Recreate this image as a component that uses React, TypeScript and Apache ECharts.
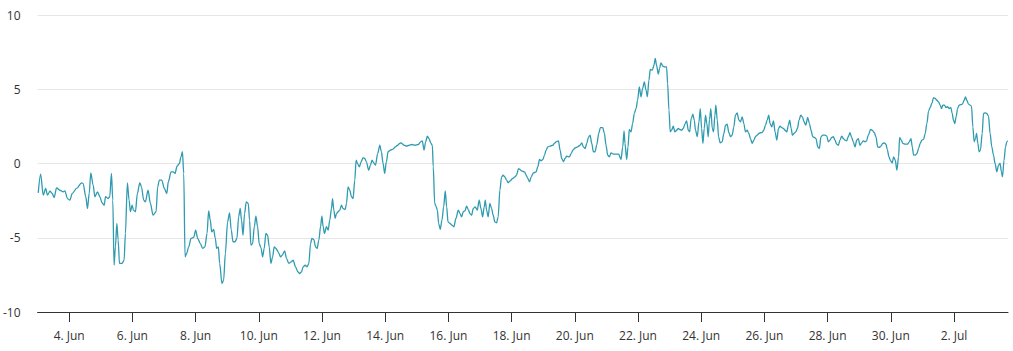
import React, { useEffect, useRef } from "react";
import * as echarts from "echarts";

// Time is in hours since 3 Jun 00:00
const tickHours = [24, 72, 120, 168, 216, 264, 312, 360, 408, 456, 504, 552, 600, 648, 696];
const tickLabels = ["4. Jun", "6. Jun", "8. Jun", "10. Jun", "12. Jun", "14. Jun", "16. Jun", "18. Jun", "20. Jun", "22. Jun", "24. Jun", "26. Jun", "28. Jun", "30. Jun", "2. Jul"];
const yTicks = [-10, -5, 0, 5, 10];

const part1: [number, number][] = [
  [0.5, -1.98], [2.3, -0.72], [4.3, -2.13], [6.1, -1.68], [7.6, -2.13], [9.4, -1.86], [11.1, -2.02], [12.6, -2.29],
  [14.4, -1.64], [16.9, -1.8], [19.5, -1.91], [20.7, -1.84], [22.7, -2.36], [24.5, -2.47], [26.3, -2.02], [29.6, -1.68],
  [33.4, -1.3], [34.6, -1.35], [36.6, -2.24], [37.9, -3.03], [39.2, -2.02], [40.4, -0.63], [42.2, -1.46], [43.5, -2.24],
  [45.5, -1.91], [47.3, -2.24], [49.0, -2.65], [50.6, -2.81], [51.6, -2.24], [53.6, -2.36], [54.8, -2.24], [56.1, -0.67],
  [57.1, -2.47], [58.1, -6.85], [59.1, -5.61], [60.2, -4.04], [61.2, -5.16], [62.2, -6.73], [64.2, -6.73], [65.7, -6.51],
  [66.7, -4.71], [68.2, -1.3], [69.5, -2.47], [70.5, -3.25], [71.8, -2.81], [72.8, -3.14], [74.3, -3.25], [75.8, -2.02],
  [77.6, -1.3], [78.9, -1.57], [80.6, -2.47], [81.9, -2.58], [83.9, -1.8], [85.7, -2.69], [87.7, -3.48],
];

const part2: [number, number][] = [
  [90.0, -3.25], [91.2, -1.57], [92.5, -1.12], [94.3, -1.12], [96.3, -1.68], [98.1, -2.02], [99.3, -1.23], [101.4, -0.56],
  [103.1, -0.56], [104.4, -0.67], [105.9, -0.18], [107.7, 0], [108.9, 0.45], [110.0, 0.79], [111.0, -0.67], [112.0, -6.29],
  [113.2, -6.06], [114.8, -5.61], [116.5, -5.05], [118.5, -4.98], [120.1, -4.49], [121.6, -5.05], [123.6, -5.39], [125.4, -5.72],
  [127.1, -5.61], [128.7, -4.71], [129.9, -3.19], [131.2, -3.82], [132.2, -4.6], [133.7, -4.44], [135.0, -5.05], [136.0, -5.72],
  [137.3, -5.61], [138.3, -6.73], [140.0, -8.08], [141.3, -7.86], [142.6, -6.06], [144.3, -3.93], [145.8, -3.32], [147.1, -4.49],
  [148.4, -5.27], [149.9, -5.27], [151.4, -5.05], [152.7, -3.59], [153.9, -3.03], [154.9, -3.82], [156.0, -4.83], [157.2, -3.37],
  [158.5, -2.58], [160.0, -2.69], [161.0, -3.82], [162.0, -5.5], [163.3, -5.39], [164.6, -4.26], [165.8, -3.55], [167.1, -4.26],
  [168.3, -5.39], [169.6, -5.66], [170.9, -6.29], [172.1, -5.72], [173.4, -4.71], [174.7, -4.83], [175.9, -5.61], [177.2, -6.73],
  [178.5, -6.29], [179.7, -5.61], [181.0, -5.72],
];

const part3: [number, number][] = [
  [182.0, -5.84], [183.3, -6.06], [184.5, -6.29], [185.8, -6.17], [187.6, -5.88], [189.1, -6.4], [190.8, -6.73], [192.6, -6.62],
  [194.1, -6.51], [195.9, -6.96], [197.7, -7.3], [199.2, -7.41], [200.4, -7.3], [201.7, -6.96], [203.2, -6.85], [204.7, -6.96],
  [206.0, -6.73], [207.3, -5.39], [208.3, -5.05], [209.8, -5.12], [211.1, -5.61], [212.3, -5.72], [213.6, -5.16], [214.9, -4.26],
  [215.9, -3.55], [216.9, -4.26], [217.9, -4.71], [219.4, -4.26], [220.7, -4.49], [221.9, -3.82], [223.2, -3.03], [224.0, -2.36],
  [225.0, -3.14], [226.0, -3.7], [227.0, -3.37], [228.3, -3.25], [229.5, -3.14], [230.8, -2.81], [232.0, -3.03], [233.6, -3.1],
  [234.6, -2.69], [235.8, -1.57], [237.1, -1.8], [238.4, -2.24], [239.6, -2.36], [240.9, -1.12], [241.9, 0.22], [243.2, -0.04],
  [244.4, -0.22], [245.7, 0.11], [247.2, 0.4], [248.5, 0.34], [249.7, 0.11], [251.5, -0.45], [252.8, -0.11], [254.0, 0.22],
  [255.3, 0.04], [256.6, -0.11], [258.3, 0.67], [259.9, 1.23], [261.1, 0.79], [262.4, 0], [263.6, -0.67], [264.9, 0.11],
  [266.2, 0.79], [267.9, 0.9], [270.0, 0.97], [271.7, 1.12], [273.5, 1.23], [275.0, 1.35], [276.0, 1.39],
];

const part4: [number, number][] = [
  [278.3, 1.23], [280.3, 1.17], [282.3, 1.23], [284.1, 1.28], [286.6, 1.23], [289.2, 1.28], [290.9, 1.46], [292.2, 1.53],
  [293.5, 0.9], [294.7, 1.46], [296.0, 1.84], [297.3, 1.68], [298.8, 1.35], [299.8, 1.23], [300.5, -0.22], [301.6, -2.69],
  [302.6, -2.87], [303.6, -3.14], [304.6, -4.04], [305.8, -4.44], [307.1, -3.82], [308.4, -2.92], [309.6, -1.84], [310.7, -2.92],
  [311.7, -3.93], [313.2, -4.04], [314.7, -4.15], [316.2, -4.26], [317.7, -3.7], [319.5, -3.14], [320.8, -3.37], [322.0, -3.59],
  [323.3, -3.25], [324.6, -3.19], [325.8, -2.87], [327.1, -3.1], [328.3, -3.37], [329.6, -3.48], [330.9, -3.03], [332.4, -2.92],
  [333.9, -3.14], [335.4, -2.47], [336.7, -3.03], [338.0, -3.59], [339.2, -2.92], [340.0, -2.47], [341.0, -3.14], [342.2, -3.59],
  [343.5, -2.69], [344.8, -3.03], [346.0, -3.48], [347.3, -3.93], [348.6, -4.0], [349.8, -3.59], [351.1, -1.8], [352.4, -0.9],
  [353.6, -0.79], [354.9, -0.9], [356.2, -1.12], [357.4, -1.3], [358.7, -1.19], [360.7, -1.01], [362.5, -0.9], [363.7, -0.79],
  [365.3, -0.34], [366.3, -0.4], [367.5, -0.49],
];

const part5: [number, number][] = [
  [369.8, -0.56], [371.1, -0.79], [372.3, -1.01], [373.6, -1.23], [374.9, -0.9], [376.6, -0.63], [378.6, -0.56], [379.9, -0.22],
  [381.2, 0.27], [382.4, 0.18], [383.7, 0.27], [385.0, 0.56], [386.2, 0.9], [387.5, 1.12], [389.3, 1.17], [391.3, 1.23],
  [392.5, 1.35], [393.8, 1.46], [395.6, 1.53], [396.8, 0.9], [398.1, 0.34], [399.4, 0.11], [400.6, 0.34], [401.9, 0.49],
  [403.9, 0.45], [405.2, 0.67], [406.5, 0.9], [408.2, 1.05], [410.2, 1.12], [412.0, 1.23], [413.3, 1.39], [414.5, 1.12],
  [415.8, 1.01], [417.1, 1.35], [418.3, 1.75], [419.6, 1.91], [420.9, 1.35], [422.1, 0.79], [423.4, 0.79], [424.6, 1.23],
  [426.2, 2.02], [427.4, 2.42], [429.2, 2.42], [430.5, 2.02], [431.7, 1.23], [433.0, 0.56], [434.3, 0.45], [435.5, 0.72],
  [437.3, 0.63], [439.3, 0.63], [441.3, 0.63], [443.1, 0.27], [444.4, 1.12], [445.4, 2.2], [446.1, 1.35], [447.4, 0.27],
  [448.4, 1.12], [449.4, 2.29], [450.7, 2.13], [451.9, 2.69], [453.2, 3.37], [454.5, 3.7], [455.7, 4.26], [457.0, 5.16],
  [458.3, 4.49], [459.5, 5.05], [460.8, 5.5], [462.1, 4.94],
];

const part6: [number, number][] = [
  [463.1, 4.49], [464.3, 5.61], [465.3, 6.33], [466.9, 6.29], [468.1, 6.62], [469.1, 7.07], [470.1, 6.62], [471.4, 6.02],
  [472.4, 6.4], [473.4, 6.78], [474.9, 6.55], [476.5, 6.51], [477.7, 6.51], [478.5, 5.39], [479.5, 3.59], [480.5, 2.13],
  [481.5, 2.24], [482.8, 2.51], [484.0, 2.13], [485.3, 2.24], [486.6, 2.36], [487.8, 2.29], [489.1, 2.24], [490.4, 2.36],
  [491.6, 2.65], [492.9, 2.87], [494.2, 2.24], [495.2, 2.13], [496.4, 3.03], [497.7, 3.32], [498.7, 2.92], [499.7, 2.24],
  [501.0, 1.8], [502.3, 2.81], [503.3, 3.7], [504.3, 2.36], [505.3, 1.35], [506.3, 2.36], [507.3, 3.25], [508.3, 2.69],
  [509.3, 1.8], [510.3, 2.96], [511.3, 3.7], [512.4, 2.36], [513.4, 2.13], [514.4, 3.25], [515.1, 3.93], [516.2, 2.92],
  [517.2, 1.8], [518.4, 1.39], [519.9, 1.46], [521.2, 2.02], [522.5, 2.58], [523.7, 2.65], [525.0, 2.07], [526.3, 1.8],
  [527.5, 1.91], [528.8, 2.47], [530.0, 3.25], [531.3, 3.41], [532.6, 2.92], [533.8, 2.81], [535.1, 3.14], [536.4, 2.69],
  [537.6, 2.13], [538.9, 2.24], [540.2, 2.02], [541.4, 1.68], [542.7, 1.35], [544.0, 1.57], [545.2, 1.8], [546.5, 1.91],
  [547.8, 2.02], [549.0, 2.07], [550.3, 2.09], [551.5, 2.24], [552.8, 2.58], [554.1, 2.92], [555.3, 3.25],
];

const part7: [number, number][] = [
  [556.3, 2.69], [557.6, 2.47], [558.9, 2.87], [560.1, 2.13], [561.4, 1.57], [562.7, 2.36], [563.9, 2.51], [565.2, 2.42],
  [566.4, 2.36], [567.7, 2.24], [569.0, 2.13], [570.2, 2.58], [571.2, 2.92], [572.3, 2.36], [573.3, 1.91], [574.5, 2.02],
  [575.8, 2.13], [577.1, 2.36], [578.3, 2.92], [579.6, 3.25], [580.9, 3.14], [582.1, 2.81], [583.4, 2.58], [584.9, 3.1],
  [586.2, 2.69], [587.4, 2.24], [588.7, 1.8], [590.0, 1.75], [591.2, 1.68], [592.5, 1.12], [593.7, 1.01], [595.0, 1.8],
  [596.3, 1.91], [598.0, 1.91], [599.3, 1.86], [600.6, 1.46], [601.8, 1.57], [603.1, 1.75], [604.4, 1.8], [605.6, 1.57],
  [606.9, 1.3], [608.2, 1.23], [609.4, 1.57], [610.7, 1.84], [612.0, 1.68], [613.2, 1.57], [614.5, 1.53], [615.7, 1.8],
  [617.0, 2.07], [618.3, 1.75], [619.5, 1.46], [620.8, 1.12], [622.1, 1.57], [623.3, 1.68], [624.6, 1.23], [625.9, 1.39],
  [627.1, 1.53], [628.4, 1.46], [629.6, 1.53], [630.9, 1.91], [632.7, 2.29], [633.9, 2.24], [635.5, 2.07], [636.7, 1.8],
  [638.0, 1.12], [639.2, 1.08], [640.5, 1.17], [641.8, 1.35], [643.1, 1.39], [644.3, 1.3], [645.3, 0.94], [646.6, 0.45],
  [647.8, 0.18], [649.1, 0.04],
];

const part8: [number, number][] = [
  [650.1, 0.45], [651.4, 0.22], [652.6, -0.45], [653.9, 0.45], [654.7, 1.75], [655.9, 1.57], [657.2, 1.35], [659.0, 1.3],
  [660.7, 1.3], [662.0, 1.46], [663.3, 1.68], [664.3, 1.12], [665.3, 0.56], [666.6, 0.56], [667.8, 0.67], [669.1, 1.01],
  [670.3, 1.35], [671.6, 1.57], [672.9, 1.62], [674.1, 2.02], [675.4, 2.69], [676.7, 3.55], [677.9, 3.77], [679.2, 4.04],
  [680.4, 4.44], [681.7, 4.38], [683.0, 4.26], [684.2, 4.15], [685.5, 3.93], [686.5, 3.7], [687.5, 3.93], [688.8, 3.93],
  [689.8, 3.77], [691.1, 3.82], [692.3, 3.7], [693.6, 3.77], [694.6, 3.37], [695.6, 2.92], [696.6, 2.69], [697.6, 3.14],
  [698.7, 3.7], [699.9, 3.93], [701.2, 3.97], [702.4, 4.0], [703.7, 4.26], [704.7, 4.49], [705.7, 4.26], [707.0, 4.0],
  [708.2, 3.93], [709.3, 3.86], [710.3, 2.47], [711.3, 1.46], [712.3, 1.68], [713.1, 2.02], [714.1, 1.35], [715.1, 0.79],
  [716.1, 0.9], [717.4, 2.02], [718.4, 3.37], [719.6, 3.41], [720.9, 3.37], [722.2, 3.19], [723.4, 2.02], [724.7, 1.12],
  [726.0, 0.56], [727.2, 0], [728.5, -0.56], [729.8, -0.11], [731.0, 0], [732.0, -0.56], [732.8, -0.9], [734.0, 0.22],
  [735.1, 1.12], [736.1, 1.46], [736.8, 1.53],
];

const seriesData = [...part1, ...part2, ...part3, ...part4, ...part5, ...part6, ...part7, ...part8];

export default function App() {
  const ref = useRef<HTMLDivElement>(null);
  useEffect(() => {
    document.body.style.margin = "0";
    const chart = echarts.init(ref.current!, null, { renderer: "svg" });
    const font = "'Open Sans', 'Noto Sans', sans-serif";
    chart.setOption({
      animation: false,
      grid: { left: 36, right: 5, top: 15, bottom: 39 },
      xAxis: {
        type: "value",
        min: 0,
        max: 737,
        splitLine: { show: false },
        axisLine: { show: true, onZero: false, lineStyle: { color: "#333333", width: 1 } },
        axisTick: { show: true, length: 10, lineStyle: { color: "#333333" }, customValues: tickHours },
        axisLabel: {
          customValues: tickHours,
          margin: 17,
          color: "#333333",
          fontSize: 12,
          fontFamily: font,
          formatter: (v: number) => {
            const i = tickHours.indexOf(Math.round(v));
            return i >= 0 ? tickLabels[i] : "";
          },
        },
      },
      yAxis: {
        type: "value",
        min: yTicks[0],
        max: yTicks[yTicks.length - 1],
        interval: 5,
        axisLine: { show: false },
        axisTick: { show: false },
        splitLine: { lineStyle: { color: "#e6e6e6", width: 1 } },
        axisLabel: { margin: 17, color: "#333333", fontSize: 12, fontFamily: font },
      },
      series: [
        {
          type: "line",
          data: seriesData,
          showSymbol: false,
          smooth: 0.3,
          smoothMonotone: "x",
          lineStyle: { color: "#2f9bb0", width: 1.3 },
          itemStyle: { color: "#2f9bb0" },
        },
      ],
    });
    return () => chart.dispose();
  }, []);
  return <div ref={ref} style={{ width: 1013, height: 351 }} />;
}
